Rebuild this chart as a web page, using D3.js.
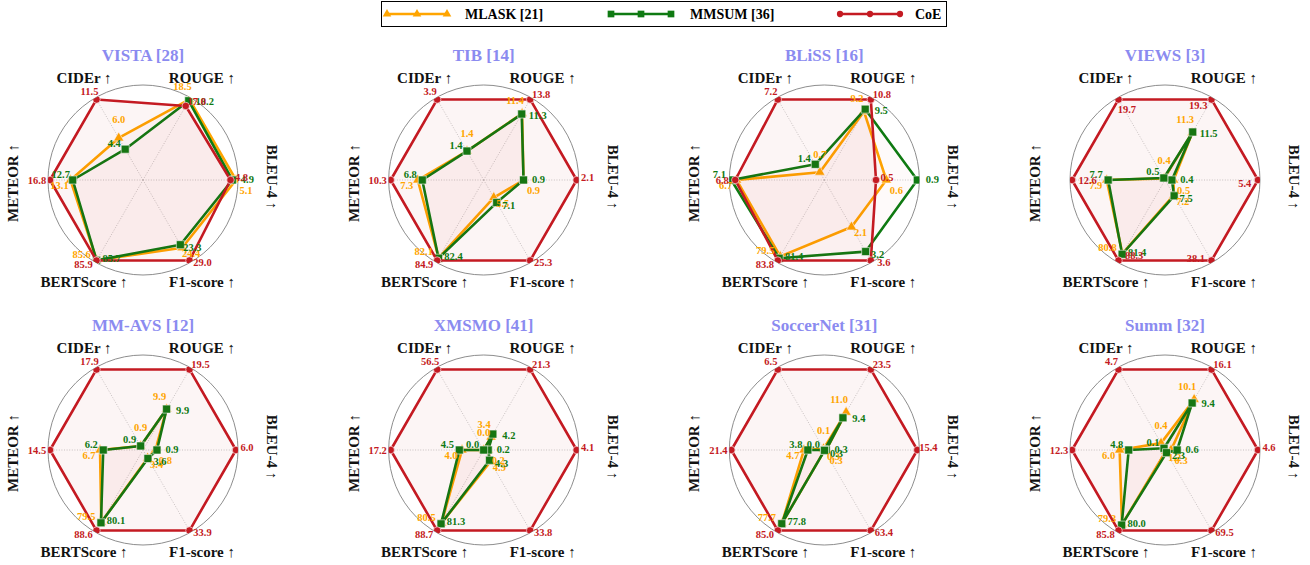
<!DOCTYPE html>
<html lang="en">
<head>
  <meta charset="UTF-8">
  <title>Radar charts</title>
  <style>
    body { margin: 0; background: #fff; }
    text { font-family: "Liberation Serif", "Times New Roman", serif; font-weight: bold; }
  </style>
</head>
<body>
  <svg id="svg" width="1310" height="565"></svg>

  <script src="https://d3js.org/d3.v7.min.js"></script>
  <script>
    // axis order: counter-clockwise starting at 3 o'clock
    const axes = ['BLEU-4 ↑', 'ROUGE ↑', 'CIDEr ↑', 'METEOR ↑', 'BERTScore ↑', 'F1-score ↑']
    const datasets = ['VISTA [28]', 'TIB [14]', 'BLiSS [16]', 'VIEWS [3]',
                      'MM-AVS [12]', 'XMSMO [41]', 'SoccerNet [31]', 'Summ [32]']
    const methods = ['MLASK [21]', 'MMSUM [36]', 'CoE']

    // values per dataset: [BLEU-4, ROUGE, CIDEr, METEOR, BERTScore, F1-score]
    const mlask = [
      [5.1, 18.5, 6.0, 13.1, 85.6, 24.4],
      [0.9, 11.4, 1.4, 7.3, 82.1, 5.5],
      [0.6, 9.2, 0.7, 6.7, 79.5, 2.1],
      [0.5, 11.3, 0.4, 7.9, 80.8, 7.2],
      [0.8, 9.9, 0.9, 6.7, 79.5, 3.4],
      [0.2, 3.4, 0.0, 4.0, 80.5, 4.9],
      [0.3, 11.0, 0.1, 4.7, 77.7, 0.3],
      [0.3, 10.1, 0.4, 6.0, 79.3, 1.2]
    ]
    const mmsum = [
      [4.9, 18.2, 4.4, 12.7, 85.7, 23.3],
      [0.9, 11.3, 1.4, 6.8, 82.4, 7.1],
      [0.9, 9.5, 1.4, 7.1, 81.4, 3.2],
      [0.4, 11.5, 0.5, 7.7, 81.4, 7.5],
      [0.9, 9.9, 0.9, 6.2, 80.1, 3.6],
      [0.2, 4.2, 0.0, 4.5, 81.3, 4.3],
      [0.3, 9.4, 0.0, 3.8, 77.8, 0.3],
      [0.6, 9.4, 0.1, 4.8, 80.0, 2.3]
    ]
    const coe = [
      [4.8, 17.0, 11.5, 16.8, 85.9, 29.0],
      [2.1, 13.8, 3.9, 10.3, 84.9, 25.3],
      [0.5, 10.8, 7.2, 6.8, 83.8, 3.6],
      [5.4, 19.3, 19.7, 12.6, 88.3, 38.1],
      [6.0, 19.5, 17.9, 14.5, 88.6, 33.9],
      [4.1, 21.3, 56.5, 17.2, 88.7, 33.8],
      [15.4, 23.5, 6.5, 21.4, 85.0, 63.4],
      [4.6, 16.1, 4.7, 12.3, 85.8, 69.5]
    ]

    // styling / layout
    const colors = ['#ffa500', '#0f7a12', '#c41a22']
    const symbols = [d3.symbolTriangle, d3.symbolSquare, d3.symbolCircle]
    const symSize = [46, 64, 44]
    // value-label offsets (px) per method, per axis
    const labelOff = [
      [[10, 10], [-7, -13], [0, -18], [-11, 5], [-15, -6], [9, 6]],
      [[15, -1], [16, 1], [-11, -6], [-12, -6], [15, -2], [12, 3]],
      [[11, -3], [11, -5], [-7, -8], [-13, 0], [-13, 4], [13, 2]]
    ]
    const flipCoe = [false, false, false, true, false, false, false, false]

    const R = 93, frameR = 95
    const svg = d3.select('#svg')

    svg.append('defs').append('clipPath').attr('id', 'polar')
      .append('circle').attr('r', frameR)

    const colX = d3.scaleLinear().domain([0, 3]).range([143, 1165])
    const rowY = d3.scaleLinear().domain([0, 1]).range([180, 450])
    const angle = d3.scaleLinear().domain([0, 6]).range([Math.PI / 2, Math.PI / 2 - 2 * Math.PI])
    const radius = d3.scaleLinear().domain([0, 1]).range([0, R])
    const pos = (i, v) => [radius(v) * Math.sin(angle(i)), -radius(v) * Math.cos(angle(i))]

    const radial = d3.lineRadial()
      .angle((d, i) => angle(i))
      .radius(d => radius(d))
      .curve(d3.curveLinearClosed)

    datasets.forEach((name, k) => {
      const series = [mlask[k], mmsum[k], coe[k]]
      const maxes = axes.map((a, i) => d3.max(series, s => s[i]))
      const norm = series.map(s => s.map((v, i) => v / maxes[i]))

      const g = svg.append('g')
        .attr('transform', `translate(${colX(k % 4)},${rowY(Math.floor(k / 4))})`)

      // title
      g.append('text')
        .attr('y', -125)
        .attr('text-anchor', 'middle')
        .attr('dominant-baseline', 'central')
        .attr('font-size', 17)
        .attr('fill', '#8b8bf0')
        .text(name)

      // spokes
      g.selectAll('line.spoke')
        .data(axes)
        .enter()
        .append('line')
        .attr('x2', (d, i) => frameR * Math.sin(angle(i)))
        .attr('y2', (d, i) => -frameR * Math.cos(angle(i)))
        .attr('stroke', '#bbb')
        .attr('stroke-width', 0.8)
        .attr('stroke-dasharray', '1,1.6')

      g.append('circle')
        .attr('r', frameR)
        .attr('fill', 'none')
        .attr('stroke', '#808080')
        .attr('stroke-width', 0.9)

      // axis labels
      axes.forEach((a, i) => {
        const t = g.append('text')
          .attr('text-anchor', 'middle')
          .attr('dominant-baseline', 'central')
          .attr('font-size', 15)
          .attr('fill', '#111')
          .text(a)
        if (i === 0) t.attr('transform', 'translate(129,-3) rotate(90)')
        else if (i === 3) t.attr('transform', 'translate(-130,3) rotate(-90)')
        else {
          const [x, y] = [118 * Math.sin(angle(i)), -118 * Math.cos(angle(i))]
          t.attr('x', x).attr('y', y)
        }
      })

      const plot = g.append('g').attr('clip-path', 'url(#polar)')

      norm.forEach((s, m) => {
        plot.append('path')
          .attr('d', radial(s))
          .attr('fill', colors[2])
          .attr('fill-opacity', m === 2 ? 0.045 : 0.025)
          .attr('stroke', colors[m])
          .attr('stroke-width', 2.6)
          .attr('stroke-linejoin', 'round')

        plot.selectAll('path.mk' + m)
          .data(s)
          .enter()
          .append('path')
          .attr('class', 'mk' + m)
          .attr('d', d3.symbol().type(symbols[m]).size(symSize[m]))
          .attr('transform', (d, i) => `translate(${pos(i, d)})`)
          .attr('fill', colors[m])
          .attr('stroke', '#fff')
          .attr('stroke-width', 0.6)
      })

      // value labels
      norm.forEach((s, m) => {
        const f = (m === 2 && flipCoe[k]) ? -1.2 : 1
        g.selectAll('text.v' + m)
          .data(s)
          .enter()
          .append('text')
          .attr('class', 'v' + m)
          .attr('x', (d, i) => pos(i, d)[0] + labelOff[m][i][0] * f)
          .attr('y', (d, i) => pos(i, d)[1] + labelOff[m][i][1] * f)
          .attr('text-anchor', 'middle')
          .attr('dominant-baseline', 'central')
          .attr('font-size', 10.5)
          .attr('fill', colors[m])
          .text((d, i) => series[m][i].toFixed(1))
      })
    })

    // legend
    const leg = svg.append('g')
    leg.append('rect')
      .attr('x', 381.5).attr('y', 1.5)
      .attr('width', 565).attr('height', 25)
      .attr('fill', '#fff')
      .attr('stroke', '#000')
      .attr('stroke-width', 1)
    const legX = [387, 611, 840]
    const legTextX = [465, 690, 915]
    methods.forEach((name, m) => {
      const x0 = legX[m], x1 = legX[m] + 60
      leg.append('line')
        .attr('x1', x0).attr('x2', x1).attr('y1', 14).attr('y2', 14)
        .attr('stroke', colors[m]).attr('stroke-width', 2.4)
      leg.selectAll('path.lm' + m)
        .data([x0, (x0 + x1) / 2, x1])
        .enter()
        .append('path')
        .attr('d', d3.symbol().type(symbols[m]).size(symSize[m] * 0.7))
        .attr('transform', d => `translate(${d},14)`)
        .attr('fill', colors[m])
      leg.append('text')
        .attr('x', legTextX[m]).attr('y', 14)
        .attr('dominant-baseline', 'central')
        .attr('font-size', 14)
        .attr('fill', '#000')
        .text(name)
    })
  </script>
</body>
</html>
